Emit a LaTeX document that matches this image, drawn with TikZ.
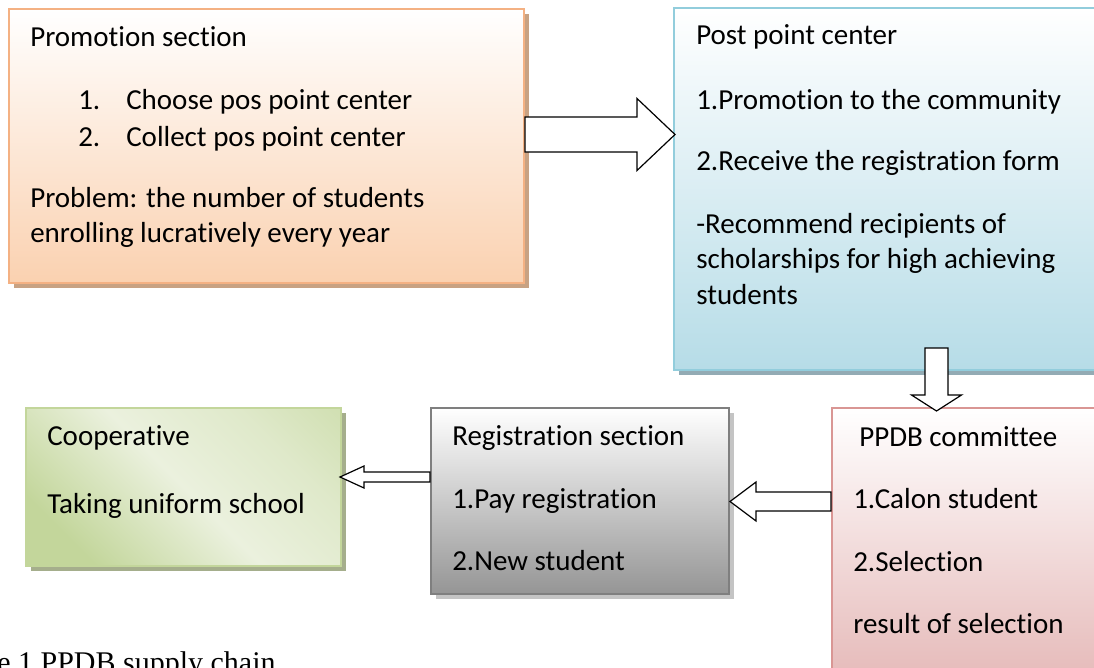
\documentclass[tikz,border=0pt]{standalone}
\usepackage{fontspec}
\setmainfont[Ligatures=NoCommon]{Carlito}
\newfontfamily\capfont{Liberation Serif}
\usetikzlibrary{calc,shadows}
\definecolor{promoBorder}{HTML}{F4B183}
\definecolor{promoBottom}{HTML}{FAD1B0}
\definecolor{promoShadow}{HTML}{C8A283}
\definecolor{postBorder}{HTML}{92CDDC}
\definecolor{postBottom}{HTML}{B6DCE7}
\definecolor{postShadow}{HTML}{93ABB4}
\definecolor{coopBorder}{HTML}{C3D69B}
\definecolor{coopDark}{HTML}{C3D69B}
\definecolor{coopLight}{HTML}{EBF1DE}
\definecolor{coopShadow}{HTML}{A5AE8C}
\definecolor{regBorder}{HTML}{7F7F7F}
\definecolor{regBottom}{HTML}{959595}
\definecolor{regShadow}{HTML}{C4C4C4}
\definecolor{ppdbBorder}{HTML}{D99694}
\definecolor{ppdbBottom}{HTML}{E3B3B2}
\pgfdeclarehorizontalshading{coopshade}{100bp}{color(0bp)=(coopDark); color(25bp)=(coopDark); color(50bp)=(coopLight); color(70bp)=(coopLight!70!coopDark); color(100bp)=(coopDark)}
\newcommand\blockarrowH[5]{%
  \draw[blockarrow] ($(#1)+(0,{-(#3)})$) -- ($(#2)+({-(#5)},{-(#3)})$) -- ($(#2)+({-(#5)},{-(#4)})$) -- (#2) -- ($(#2)+({-(#5)},{#4})$) -- ($(#2)+({-(#5)},{#3})$) -- ($(#1)+(0,{#3})$) -- cycle;}
\newcommand\blockarrowV[5]{%
  \draw[blockarrow] ($(#1)+({-(#3)},0)$) -- ($(#2)+({-(#3)},{-(#5)})$) -- ($(#2)+({-(#4)},{-(#5)})$) -- (#2) -- ($(#2)+({#4},{-(#5)})$) -- ($(#2)+({#3},{-(#5)})$) -- ($(#1)+({#3},0)$) -- cycle;}
\begin{document}
\begin{tikzpicture}[x=0.75pt,y=-0.75pt,
  box/.style={rectangle, anchor=north west, inner sep=0pt, line width=1.5pt},
  promobox/.style={box, draw=promoBorder, top color=white, bottom color=promoBottom,
    drop shadow={shadow xshift=3.75pt, shadow yshift=-3.75pt, fill=promoShadow, opacity=1}},
  postbox/.style={box, draw=postBorder, top color=white, bottom color=postBottom,
    drop shadow={shadow xshift=3.75pt, shadow yshift=-3.75pt, fill=postShadow, opacity=1}},
  coopbox/.style={box, draw=coopBorder, shading=coopshade, shading angle=45,
    drop shadow={shadow xshift=3.75pt, shadow yshift=-3.75pt, fill=coopShadow, opacity=1}},
  regbox/.style={box, draw=regBorder, top color=white, bottom color=regBottom,
    drop shadow={shadow xshift=3.75pt, shadow yshift=-3.75pt, fill=regShadow, opacity=1}},
  ppdbbox/.style={box, draw=ppdbBorder, top color=white, bottom color=ppdbBottom},
  txt/.style={anchor=base west, inner sep=0pt, font=\fontsize{21.75}{26}\selectfont},
  blockarrow/.style={draw=black, fill=white, line width=0.9pt, line join=miter}
]
\useasboundingbox (0,0) rectangle (1094,667);

% boxes
\node[promobox, minimum width=386.25pt, minimum height=205.5pt] (promo) at (8,8) {};
\node[postbox, minimum width=330pt, minimum height=271.5pt] (post) at (673,7) {};
\node[coopbox, minimum width=236.25pt, minimum height=118.5pt] (coop) at (25,407) {};
\node[regbox, minimum width=223.5pt, minimum height=139.5pt] (reg) at (430,407) {};
\node[ppdbbox, minimum width=210pt, minimum height=225pt] (ppdb) at (831,407) {};

% texts
\node[txt] (p0) at (30,46) {Promotion section};
\node[txt] (p1n) at (78,109) {1.};
\node[txt] (p1) at (126,109) {Choose pos point center};
\node[txt] (p2n) at (78,146) {2.};
\node[txt] (p2) at (126,146) {Collect pos point center};
\node[txt] (p3) at (30,207) {Problem: the number of students};
\node[txt] (p4) at (30,242) {enrolling lucratively every year};

\node[txt] (q0) at (696,45) {Post point center};
\node[txt] (q1) at (696,109) {1.Promotion to the community};
\node[txt] (q2) at (696,170) {2.Receive the registration form};
\node[txt] (q3) at (696,233) {-Recommend recipients of};
\node[txt] (q4) at (696,268) {scholarships for high achieving};
\node[txt] (q5) at (696,304) {students};

\node[txt] (c0) at (47,445) {Cooperative};
\node[txt] (c1) at (47,513) {Taking uniform school};

\node[txt] (r0) at (452,445) {Registration section};
\node[txt] (r1) at (452,508) {1.Pay registration};
\node[txt] (r2) at (452,570) {2.New student};

\node[txt] (d0) at (859,446) {PPDB committee};
\node[txt] (d1) at (853,508) {1.Calon student};
\node[txt] (d2) at (853,571) {2.Selection};
\node[txt] (d3) at (853,633) {result of selection};

\node[anchor=base west, inner sep=0pt, font=\capfont\fontsize{22.5}{26}\selectfont] (cap) at (-3,672) {e 1 PPDB supply chain};

% arrow anchors
\coordinate (h1) at (0,134.5);
\coordinate (v2) at (936.5,0);
\coordinate (h3) at (0,501.5);
\coordinate (h4) at (0,477);
\coordinate (a1s) at (promo.east |- h1);
\coordinate (a1e) at ($(post.west |- h1)+(2,0)$);
\coordinate (a2s) at ($(post.south -| v2)+(0,-23)$);
\coordinate (a2e) at ($(ppdb.north -| v2)+(0,4)$);
\coordinate (a3s) at (ppdb.west |- h3);
\coordinate (a3e) at (reg.east |- h3);
\coordinate (a4s) at (reg.west |- h4);
\coordinate (a4e) at ($(coop.east |- h4)+(-2,0)$);

\blockarrowH{a1s}{a1e}{17.5}{36}{38}
\blockarrowV{a2s}{a2e}{11.5}{25}{16}
\blockarrowH{a3s}{a3e}{9.5}{19.5}{-26}
\blockarrowH{a4s}{a4e}{5}{11}{-24}
\end{tikzpicture}
\end{document}
